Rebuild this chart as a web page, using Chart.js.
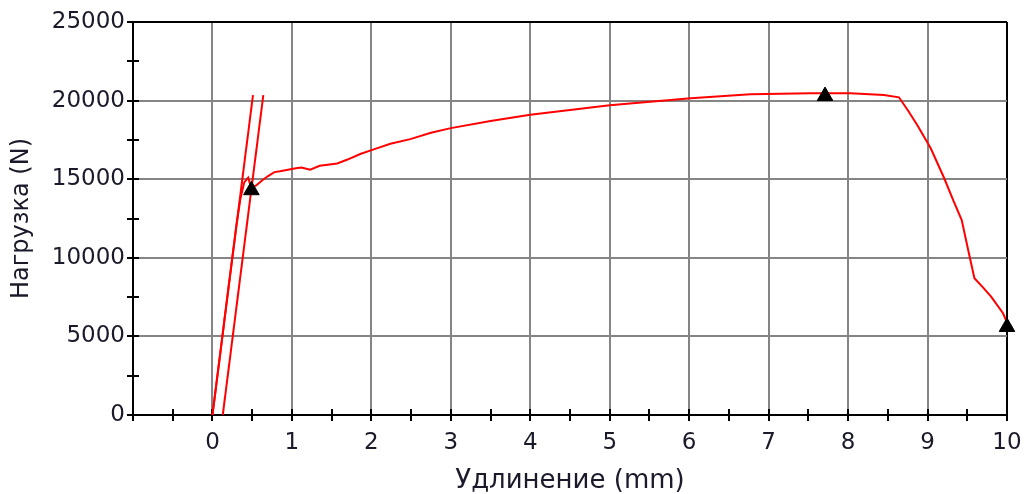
<!DOCTYPE html>
<html>
<head>
<meta charset="utf-8">
<script src="https://cdn.jsdelivr.net/npm/chart.js@4.4.1/dist/chart.umd.min.js"></script>
<style>
  html, body { margin: 0; padding: 0; background: #ffffff; }
  #wrap { width: 1025px; height: 494px; }
</style>
</head>
<body>
<div id="wrap"><canvas id="chart" width="1025" height="494"></canvas></div>
<script>
// Tensile test: load vs. elongation
const elongation = [0, 0.10, 0.20, 0.30, 0.35, 0.40, 0.45, 0.47, 0.49, 0.55, 0.62, 0.70, 0.78, 0.85, 0.95,
  1.05, 1.12, 1.23, 1.35, 1.57, 1.70, 1.86, 2.03, 2.24, 2.49, 2.75, 3.00, 3.50, 4.00, 4.50, 5.00,
  5.51, 6.02, 6.77, 7.53, 8.03, 8.45, 8.64, 8.75, 8.87, 9.04, 9.21, 9.32, 9.43, 9.53, 9.59, 9.70,
  9.80, 9.95, 10.00];
const load = [0, 4000, 8050, 12000, 13700, 14800, 15100, 14750, 14450, 14600, 14900, 15200, 15450, 15500, 15600,
  15700, 15750, 15600, 15850, 16000, 16250, 16600, 16900, 17250, 17550, 17950, 18250, 18700, 19100, 19400, 19700,
  19930, 20150, 20400, 20460, 20460, 20360, 20210, 19400, 18450, 16970, 15060, 13700, 12400, 10070, 8700, 8100,
  7530, 6470, 5900];

// Elastic modulus line and its offset parallel
const modulusLineX = [0, 0.51];
const modulusLineY = [0, 20350];
const offsetLineX = [0.13, 0.64];
const offsetLineY = [0, 20350];

// Marked points: yield, maximum load, break
const markerX = [0.49, 7.71, 10.0];
const markerY = [14300, 20290, 5600];

// Axis ranges and ticks
const xMin = -1, xMax = 10, xStep = 0.5;
const yMin = 0, yMax = 25000, yStep = 2500, yLabelStep = 5000;
const xTitle = 'Удлинение (mm)';
const yTitle = 'Нагрузка (N)';

const toPoints = (xs, ys) => xs.map((v, i) => ({ x: v, y: ys[i] }));

const GRID = '#858585';
const TEXT = '#1a1a2a';
const FONT = '"DejaVu Sans", Verdana, sans-serif';

// Short black tick marks crossing both axes
const tickMarks = {
  id: 'tickMarks',
  beforeDatasetsDraw(chart) {
    const { ctx, scales: { x, y }, chartArea: a } = chart;
    ctx.save();
    ctx.strokeStyle = '#000';
    ctx.lineWidth = 2;
    x.ticks.forEach(t => {
      const px = Math.round(x.getPixelForValue(t.value));
      ctx.beginPath();
      ctx.moveTo(px, a.bottom - 6);
      ctx.lineTo(px, a.bottom + 6);
      ctx.stroke();
    });
    y.ticks.forEach(t => {
      const py = Math.round(y.getPixelForValue(t.value));
      ctx.beginPath();
      ctx.moveTo(a.left - 6, py);
      ctx.lineTo(a.left + 6, py);
      ctx.stroke();
    });
    ctx.restore();
  }
};

new Chart(document.getElementById('chart'), {
  type: 'scatter',
  data: {
    datasets: [
      {
        data: toPoints(markerX, markerY),
        pointStyle: 'triangle',
        pointRadius: 9,
        backgroundColor: '#000',
        borderColor: '#000',
        borderWidth: 1,
        showLine: false,
        clip: false
      },
      {
        data: toPoints(elongation, load),
        showLine: true,
        borderColor: '#ff0000',
        borderWidth: 2,
        pointRadius: 0,
        tension: 0
      },
      {
        data: toPoints(modulusLineX, modulusLineY),
        showLine: true,
        borderColor: '#ff0000',
        borderWidth: 2,
        pointRadius: 0
      },
      {
        data: toPoints(offsetLineX, offsetLineY),
        showLine: true,
        borderColor: '#ff0000',
        borderWidth: 2,
        pointRadius: 0
      }
    ]
  },
  options: {
    responsive: false,
    animation: false,
    devicePixelRatio: 1,
    layout: { padding: { left: 0, top: 22, right: 18, bottom: 0 } },
    plugins: { legend: { display: false }, tooltip: { enabled: false } },
    scales: {
      x: {
        type: 'linear',
        position: 'bottom',
        min: xMin,
        max: xMax,
        afterFit(s) { s.height = 79; s.paddingRight = 0; s.paddingLeft = 0; },
        ticks: {
          stepSize: xStep,
          autoSkip: false,
          maxRotation: 0,
          padding: 8,
          color: TEXT,
          font: { family: FONT, size: 23 },
          callback: v => (Number.isInteger(v) && v >= 0 ? String(v) : '')
        },
        grid: {
          color: c => (c.tick.value === xMax ? '#000' :
            (Number.isInteger(c.tick.value) && c.tick.value > xMin ? GRID : 'rgba(0,0,0,0)')),
          lineWidth: 2,
          drawTicks: true,
          tickLength: 6,
          tickColor: 'rgba(0,0,0,0)'
        },
        border: { color: '#000', width: 2 },
        title: {
          display: true,
          text: xTitle,
          color: TEXT,
          font: { family: FONT, size: 26, lineHeight: 1 },
          padding: { top: 0, bottom: 0 }
        }
      },
      y: {
        type: 'linear',
        min: yMin,
        max: yMax,
        afterFit(s) { s.width = 133; },
        ticks: {
          stepSize: yStep,
          padding: 2,
          color: TEXT,
          font: { family: FONT, size: 23 },
          callback: v => (v % yLabelStep === 0 ? String(v) : '')
        },
        grid: {
          color: c => (c.tick.value === yMax ? '#000' :
            (c.tick.value % yLabelStep === 0 && c.tick.value > yMin ? GRID : 'rgba(0,0,0,0)')),
          lineWidth: 2,
          drawTicks: true,
          tickLength: 6,
          tickColor: 'rgba(0,0,0,0)'
        },
        border: { color: '#000', width: 2 },
        title: {
          display: true,
          text: yTitle,
          color: TEXT,
          font: { family: FONT, size: 24, lineHeight: 1 },
          padding: { top: 10, bottom: 0 }
        }
      }
    }
  },
  plugins: [tickMarks]
});
</script>
</body>
</html>
